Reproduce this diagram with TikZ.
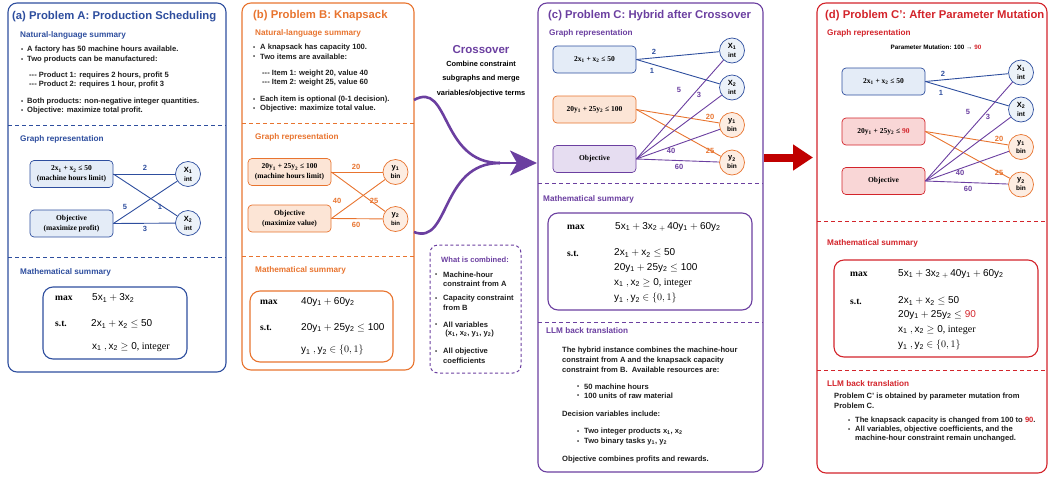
\documentclass[tikz,border=0pt]{standalone}
\usepackage{fontspec}
\setmainfont{Liberation Sans}
\newfontfamily\tnr{Liberation Serif}
\usetikzlibrary{arrows.meta}
\definecolor{cblue}{HTML}{2E4E9E}
\definecolor{cbluef}{HTML}{E4ECF7}
\definecolor{corange}{HTML}{E8742F}
\definecolor{corangef}{HTML}{FCE5D6}
\definecolor{cpurple}{HTML}{6B3FA0}
\definecolor{cpurplef}{HTML}{E6DDF1}
\definecolor{cred}{HTML}{D3242B}
\definecolor{credf}{HTML}{F9D6D6}
\definecolor{carrow}{HTML}{C00000}
\newcommand\sbx[1]{\textsubscript{#1}}
\begin{document}
\begin{tikzpicture}[x=1pt,y=-1pt,
  panel/.style={draw, line width=1.1pt, rounded corners=9pt},
  ptitle/.style={anchor=west, inner sep=0pt, font=\bfseries\fontsize{11.3}{12}\selectfont},
  head/.style={anchor=west, inner sep=0pt, font=\bfseries\fontsize{8.2}{9}\selectfont},
  txt/.style={anchor=west, inner sep=0pt, font=\bfseries\fontsize{7.6}{9}\selectfont, text=black!88},
  bul/.style={anchor=west, inner sep=0pt, font=\bfseries\fontsize{6}{9}\selectfont, text=black!88},
  sep/.style={line width=1pt, dash pattern=on 4pt off 3pt},
  gbox/.style={draw, line width=0.7pt, rounded corners=4pt, minimum width=83pt, minimum height=27pt, align=center, inner sep=1pt, font=\tnr\bfseries\fontsize{7.5}{9.5}\selectfont},
  vnode/.style={circle, draw, line width=0.7pt, minimum size=25pt, inner sep=0pt, align=center, font=\bfseries\fontsize{7.5}{9}\selectfont},
  elab/.style={inner sep=0pt, font=\bfseries\fontsize{7.5}{8}\selectfont},
  mbox/.style={draw, line width=1.1pt, rounded corners=10pt},
  mkw/.style={anchor=west, inner sep=0pt, font=\tnr\bfseries\fontsize{9.5}{11}\selectfont},
  mth/.style={anchor=west, inner sep=0pt, font=\tnr\fontsize{10}{12}\selectfont},
  gedge/.style={line width=0.9pt},
]
\useasboundingbox (0,0) rectangle (1050,477);

% ================= Panel A =================
\draw[panel, cblue] (8,3) rectangle (226,372);
\node[ptitle, text=cblue] (ta) at (12,17) {(a) Problem A: Production Scheduling};
\node[head, text=cblue] (ha1) at (20,35) {Natural-language summary};
\node[bul] (ab1) at (21,50) {\textbullet}; \node[txt] (at1) at (27,50) {A factory has 50 machine hours available.};
\node[bul] (ab2) at (21,60) {\textbullet}; \node[txt] (at2) at (27,60) {Two products can be manufactured:};
\node[txt] (at3) at (29,76) {-{}-{}- Product 1: requires 2 hours, profit 5};
\node[txt] (at4) at (29,85) {-{}-{}- Product 2: requires 1 hour, profit 3};
\node[bul] (ab5) at (21,102) {\textbullet}; \node[txt] (at5) at (27,102) {Both products: non-negative integer quantities.};
\node[bul] (ab6) at (21,111) {\textbullet}; \node[txt] (at6) at (27,111) {Objective: maximize total profit.};
\draw[sep, cblue] (8,125) -- (226,125);
\node[head, text=cblue] (ha2) at (20,139) {Graph representation};
\node[gbox, draw=cblue, fill=cbluef] (a1) at (71.5,174) {2x\sbx{1} + x\sbx{2} ≤ 50\\(machine hours limit)};
\node[gbox, draw=cblue, fill=cbluef] (a2) at (71.5,223.5) {Objective\\(maximize profit)};
\node[vnode, draw=cblue, fill=cbluef!70] (ax1) at (188,174) {X\sbx{1}\\{\fontsize{6.5}{7}\selectfont int}};
\node[vnode, draw=cblue, fill=cbluef!70] (ax2) at (188,223) {X\sbx{2}\\{\fontsize{6.5}{7}\selectfont int}};
\draw[gedge, cblue] (a1.east) -- (ax1);
\draw[gedge, cblue] (a1.east) -- (ax2);
\draw[gedge, cblue] (a2.east) -- (ax1);
\draw[gedge, cblue] (a2.east) -- (ax2);
\node[elab, text=cblue] (la2) at (145,168) {2};
\node[elab, text=cblue] (la1) at (160,207) {1};
\node[elab, text=cblue] (la5) at (125,207) {5};
\node[elab, text=cblue] (la3) at (145,229) {3};
\draw[sep, cblue] (8,257) -- (226,257);
\node[head, text=cblue] (ha3) at (20,272) {Mathematical summary};
\draw[mbox, cblue] (43,287) rectangle (187,359);
\node[mkw] (amax) at (55,298) {max};
\node[mth] (aobj) at (92,298) {$\mathrm{5x_1 + 3x_2}$};
\node[mkw] (ast) at (55,324) {s.t.};
\node[mth] (ac1) at (91,324) {$\mathrm{2x_1 + x_2 \leq 50}$};
\node[mth] (ac2) at (92,347) {$\mathrm{x_1\ ,x_2 \geq 0}$, integer};

% ================= Panel B =================
\draw[panel, corange] (242,3) rectangle (414,370);
\node[ptitle, text=corange] (tb) at (253,16) {(b) Problem B: Knapsack};
\node[head, text=corange] (hb1) at (255,33) {Natural-language summary};
\node[bul] (bb1) at (253,48) {\textbullet}; \node[txt] (bt1) at (260,48) {A knapsack has capacity 100.};
\node[bul] (bb2) at (253,57) {\textbullet}; \node[txt] (bt2) at (260,57) {Two items are available:};
\node[txt] (bt3) at (262,74) {-{}-{}- Item 1: weight 20, value 40};
\node[txt] (bt4) at (262,83) {-{}-{}- Item 2: weight 25, value 60};
\node[bul] (bb5) at (253,100) {\textbullet}; \node[txt] (bt5) at (260,100) {Each item is optional (0-1 decision).};
\node[bul] (bb6) at (253,109) {\textbullet}; \node[txt] (bt6) at (260,109) {Objective: maximize total value.};
\draw[sep, corange] (242,123) -- (414,123);
\node[head, text=corange] (hb2) at (255,137) {Graph representation};
\node[gbox, draw=corange, fill=corangef] (b1) at (289.5,172) {20y\sbx{1} + 25y\sbx{2} ≤ 100\\(machine hours limit)};
\node[gbox, draw=corange, fill=corangef] (b2) at (289.5,218.5) {Objective\\(maximize value)};
\node[vnode, draw=corange, fill=corangef!70] (by1) at (395.5,172) {y\sbx{1}\\{\fontsize{6.5}{7}\selectfont bin}};
\node[vnode, draw=corange, fill=corangef!70] (by2) at (395.5,219) {y\sbx{2}\\{\fontsize{6}{7}\selectfont bin}};
\draw[gedge, corange] (b1.east) -- (by1);
\draw[gedge, corange] (b1.east) -- (by2);
\draw[gedge, corange] (b2.east) -- (by1);
\draw[gedge, corange] (b2.east) -- (by2);
\node[elab, text=corange] (lb20) at (356,167) {20};
\node[elab, text=corange] (lb40) at (337,201) {40};
\node[elab, text=corange] (lb25) at (374,201) {25};
\node[elab, text=corange] (lb60) at (356,225) {60};
\draw[sep, corange] (242,256) -- (414,256);
\node[head, text=corange] (hb3) at (255,270) {Mathematical summary};
\draw[mbox, corange] (250,291) rectangle (393,362);
\node[mkw] (bmax) at (260,302) {max};
\node[mth] (bobj) at (301,302) {$\mathrm{40y_1 + 60y_2}$};
\node[mkw] (bst) at (260,328) {s.t.};
\node[mth] (bc1) at (301,328) {$\mathrm{20y_1 + 25y_2 \leq 100}$};
\node[mth] (bc2) at (301,350) {$\mathrm{y_1\ ,y_2} \in \{0,1\}$};

% ================= Crossover =================
\node[font=\bfseries\fontsize{11.5}{12}\selectfont, text=cpurple] (cxt) at (481,50) {Crossover};
\node[font=\bfseries\fontsize{7.4}{14.5}\selectfont, align=center, inner sep=0pt] (cxd) at (481,79) {Combine constraint\\subgraphs and merge\\variables/objective terms};
\coordinate (bout1) at (414,100);
\coordinate (bout2) at (414,232);
\coordinate (cjoin) at (500,163);
\coordinate (cin) at (537,163);
\draw[line width=2.6pt, cpurple] (bout1) .. controls (450,80) and (440,163) .. (cjoin);
\draw[line width=2.6pt, cpurple] (bout2) .. controls (450,246) and (440,163) .. (cjoin);
\draw[line width=2.6pt, cpurple, -{Stealth[length=27pt,width=25pt,inset=7pt]}] (cjoin) -- (cin);
\draw[cpurple, line width=1pt, dash pattern=on 3pt off 2.5pt, rounded corners=8pt] (430,245) rectangle (521,373);
\node[font=\bfseries\fontsize{7.6}{8}\selectfont, text=cpurple] (wct) at (475,260) {What is combined:};
\node[bul] (wb1) at (435,275) {\textbullet}; \node[txt] (wt1) at (443,275) {Machine-hour};
\node[txt] (wt1b) at (443,284) {constraint from A};
\node[bul] (wb2) at (435,299) {\textbullet}; \node[txt] (wt2) at (443,299) {Capacity constraint};
\node[txt] (wt2b) at (443,308) {from B};
\node[bul] (wb3) at (435,325) {\textbullet}; \node[txt] (wt3) at (443,325) {All variables};
\node[txt] (wt3b) at (443,334) {~(x\sbx{1}, x\sbx{2}, y\sbx{1}, y\sbx{2})};
\node[bul] (wb4) at (435,352) {\textbullet}; \node[txt] (wt4) at (443,352) {All objective};
\node[txt] (wt4b) at (443,361) {coefficients};

% ================= Panel C =================
\draw[panel, cpurple] (538,3) rectangle (763,472);
\node[ptitle, text=cpurple] (tc) at (548,16) {(c) Problem C: Hybrid after Crossover};
\node[head, text=cpurple] (hc1) at (549,33) {Graph representation};
\node[gbox, draw=cblue, fill=cbluef] (c1) at (594.5,59.5) {2x\sbx{1} + x\sbx{2} ≤ 50};
\node[gbox, draw=corange, fill=corangef] (c2) at (594.5,109.5) {20y\sbx{1} + 25y\sbx{2} ≤ 100};
\node[gbox, draw=cpurple, fill=cpurplef] (c3) at (594.5,159) {Objective};
\node[vnode, draw=cblue, fill=cbluef!70] (cx1) at (732,50.5) {X\sbx{1}\\{\fontsize{6.5}{7}\selectfont int}};
\node[vnode, draw=cblue, fill=cbluef!70] (cx2) at (732,87.5) {X\sbx{2}\\{\fontsize{6.5}{7}\selectfont int}};
\node[vnode, draw=corange, fill=corangef!70] (cy1) at (732,125) {y\sbx{1}\\{\fontsize{6.5}{7}\selectfont bin}};
\node[vnode, draw=corange, fill=corangef!70] (cy2) at (732,162.5) {y\sbx{2}\\{\fontsize{6.5}{7}\selectfont bin}};
\draw[gedge, cblue] (c1.east) -- (cx1);
\draw[gedge, cblue] (c1.east) -- (cx2);
\draw[gedge, corange] (c2.east) -- (cy1);
\draw[gedge, corange] (c2.east) -- (cy2);
\draw[gedge, cpurple] (c3.east) -- (cx1);
\draw[gedge, cpurple] (c3.east) -- (cx2);
\draw[gedge, cpurple] (c3.east) -- (cy1);
\draw[gedge, cpurple] (c3.east) -- (cy2);
\node[elab, text=cblue] (lc2) at (654,52) {2};
\node[elab, text=cblue] (lc1) at (652,71) {1};
\node[elab, text=cpurple] (lc5) at (679,90) {5};
\node[elab, text=cpurple] (lc3) at (699,95) {3};
\node[elab, text=corange] (lc20) at (710,117) {20};
\node[elab, text=corange] (lc25) at (710,151) {25};
\node[elab, text=cpurple] (lc40) at (671,151) {40};
\node[elab, text=cpurple] (lc60) at (679,167) {60};
\draw[sep, cpurple] (538,183) -- (763,183);
\node[head, text=cpurple] (hc2) at (543,199) {Mathematical summary};
\draw[mbox, cpurple] (548,213) rectangle (752,310);
\node[mkw] (cmax) at (567,227) {max};
\node[mth] (cobj) at (615,227) {$\mathrm{5x_1 + 3x_2}\,{}_{+}\,\mathrm{40y_1 + 60y_2}$};
\node[mkw] (cst) at (567,254) {s.t.};
\node[mth] (cc1) at (614,253) {$\mathrm{2x_1 + x_2 \leq 50}$};
\node[mth] (cc2) at (614,268) {$\mathrm{20y_1 + 25y_2 \leq 100}$};
\node[mth] (cc3) at (614,283) {$\mathrm{x_1\ ,x_2 \geq 0}$, integer};
\node[mth] (cc4) at (614,298) {$\mathrm{y_1\ ,y_2} \in \{0,1\}$};
\draw[sep, cpurple] (538,322) -- (763,322);
\node[head, text=cpurple] (hc3) at (546,331) {LLM back translation};
\node[txt] (ct1) at (562,351) {The hybrid instance combines the machine-hour};
\node[txt] (ct2) at (562,361) {constraint from A and the knapsack capacity};
\node[txt] (ct3) at (562,370) {constraint from B.\ \ Available resources are:};
\node[bul] (cb4) at (577,387) {\textbullet}; \node[txt] (ct4) at (584,387) {50 machine hours};
\node[bul] (cb5) at (577,396) {\textbullet}; \node[txt] (ct5) at (584,396) {100 units of raw material};
\node[txt] (ct6) at (562,414) {Decision variables include:};
\node[bul] (cb7) at (577,432) {\textbullet}; \node[txt] (ct7) at (584,432) {Two integer products x\sbx{1}, x\sbx{2}};
\node[bul] (cb8) at (577,442) {\textbullet}; \node[txt] (ct8) at (584,442) {Two binary tasks y\sbx{1}, y\sbx{2}};
\node[txt] (ct9) at (562,460) {Objective combines profits and rewards.};

% ================= Mutation arrow =================
\coordinate (cout) at (764,157.5);
\coordinate (din) at (813,157.5);
\draw[carrow, line width=8pt, -{Triangle[length=20pt,width=25pt]}] (cout) -- (din);

% ================= Panel D =================
\draw[panel, cred] (817,3) rectangle (1047,473);
\node[ptitle, text=cred] (td) at (825,16) {(d) Problem C': After Parameter Mutation};
\node[head, text=cred] (hd1) at (827,33) {Graph representation};
\node[font=\bfseries\fontsize{6.3}{7}\selectfont, inner sep=0pt] (dpm) at (936,47) {Parameter Mutation: 100 → {\color{cred}90}};
\begin{scope}[shift={(289,22)}]
\node[gbox, draw=cblue, fill=cbluef] (d1) at (594.5,59.5) {2x\sbx{1} + x\sbx{2} ≤ 50};
\node[gbox, draw=cred, fill=credf] (d2) at (594.5,109.5) {20y\sbx{1} + 25y\sbx{2} ≤ {\color{cred}90}};
\node[gbox, draw=cred, fill=credf] (d3) at (594.5,159) {Objective};
\node[vnode, draw=cblue, fill=cbluef!70] (dx1) at (732,50.5) {X\sbx{1}\\{\fontsize{6.5}{7}\selectfont int}};
\node[vnode, draw=cblue, fill=cbluef!70] (dx2) at (732,87.5) {X\sbx{2}\\{\fontsize{6.5}{7}\selectfont int}};
\node[vnode, draw=corange, fill=corangef!70] (dy1) at (732,125) {y\sbx{1}\\{\fontsize{6.5}{7}\selectfont bin}};
\node[vnode, draw=corange, fill=corangef!70] (dy2) at (732,162.5) {y\sbx{2}\\{\fontsize{6.5}{7}\selectfont bin}};
\draw[gedge, cblue] (d1.east) -- (dx1);
\draw[gedge, cblue] (d1.east) -- (dx2);
\draw[gedge, corange] (d2.east) -- (dy1);
\draw[gedge, corange] (d2.east) -- (dy2);
\draw[gedge, cpurple] (d3.east) -- (dx1);
\draw[gedge, cpurple] (d3.east) -- (dx2);
\draw[gedge, cpurple] (d3.east) -- (dy1);
\draw[gedge, cpurple] (d3.east) -- (dy2);
\node[elab, text=cblue] (ld2) at (654,52) {2};
\node[elab, text=cblue] (ld1) at (652,71) {1};
\node[elab, text=cpurple] (ld5) at (679,90) {5};
\node[elab, text=cpurple] (ld3) at (699,95) {3};
\node[elab, text=corange] (ld20) at (710,117) {20};
\node[elab, text=corange] (ld25) at (710,151) {25};
\node[elab, text=cpurple] (ld40) at (671,151) {40};
\node[elab, text=cpurple] (ld60) at (679,167) {60};
\end{scope}
\draw[sep, cred] (817,221) -- (1047,221);
\node[head, text=cred] (hd2) at (827,243) {Mathematical summary};
\draw[mbox, cred] (834,260) rectangle (1038,357);
\node[mkw] (dmax) at (850,274) {max};
\node[mth] (dobj) at (898,274) {$\mathrm{5x_1 + 3x_2}\,{}_{+}\,\mathrm{40y_1 + 60y_2}$};
\node[mkw] (dst) at (850,302) {s.t.};
\node[mth] (dc1) at (898,301) {$\mathrm{2x_1 + x_2 \leq 50}$};
\node[mth] (dc2) at (898,315) {$\mathrm{20y_1 + 25y_2 \leq {\color{cred}90}}$};
\node[mth] (dc3) at (898,330) {$\mathrm{x_1\ ,x_2 \geq 0}$, integer};
\node[mth] (dc4) at (898,345) {$\mathrm{y_1\ ,y_2} \in \{0,1\}$};
\draw[sep, cred] (817,370) -- (1047,370);
\node[head, text=cred] (hd3) at (827,384) {LLM back translation};
\node[txt] (dt1) at (834,397) {Problem C' is obtained by parameter mutation from};
\node[txt] (dt2) at (834,406) {Problem C.};
\node[bul] (db3) at (848,421) {\textbullet}; \node[txt] (dt3) at (855,421) {The knapsack capacity is changed from 100 to {\color{cred}90}.};
\node[bul] (db4) at (848,430) {\textbullet}; \node[txt] (dt4) at (855,430) {All variables, objective coefficients, and the};
\node[txt] (dt5) at (855,439) {machine-hour constraint remain unchanged.};
\end{tikzpicture}
\end{document}
